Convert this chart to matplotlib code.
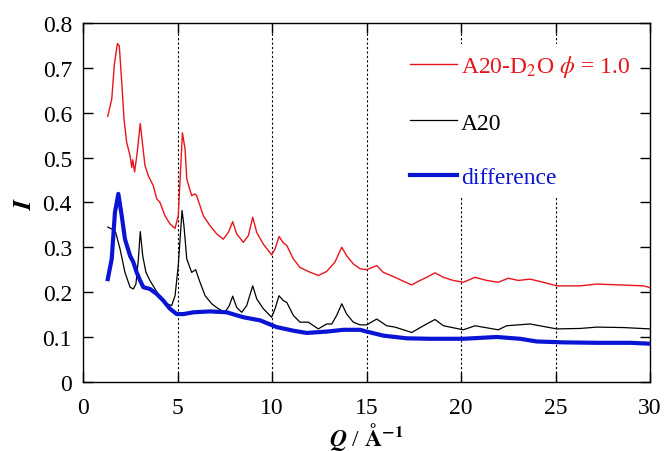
#!/usr/bin/env python3
"""Structure factor of A20 in D2O, A20 alone and their difference."""

import matplotlib

matplotlib.use("Agg")
import matplotlib.pyplot as plt
import numpy as np

# values
q_d2o = [1.31, 1.52, 1.66, 1.82, 1.92, 2.05, 2.17, 2.31, 2.49, 2.58, 2.63, 2.73, 2.87, 3.03,
         3.16, 3.28, 3.46, 3.72, 3.90, 4.07, 4.34, 4.60, 4.87, 5.04, 5.26, 5.40, 5.49, 5.75,
         5.93, 6.01, 6.37, 6.72, 7.07, 7.42, 7.69, 7.92, 8.13, 8.48, 8.75, 8.98, 9.19, 9.54,
         9.98, 10.16, 10.37, 10.60, 10.78, 11.13, 11.48, 11.92, 12.45, 12.89, 13.33, 13.69,
         13.95, 14.30, 14.66, 15.01, 15.54, 15.89, 16.51, 16.86, 17.39, 17.83, 18.18, 18.62,
         19.07, 19.59, 20.12, 20.74, 21.36, 21.97, 22.50, 23.03, 23.65, 24.35, 25.06, 26.30,
         27.18, 28.41, 29.65, 30.0]
i_d2o = [0.592, 0.630, 0.708, 0.754, 0.749, 0.667, 0.586, 0.534, 0.504, 0.478, 0.495, 0.468,
         0.512, 0.576, 0.526, 0.482, 0.459, 0.437, 0.408, 0.400, 0.370, 0.352, 0.342, 0.370,
         0.555, 0.519, 0.452, 0.415, 0.419, 0.415, 0.370, 0.348, 0.330, 0.318, 0.333, 0.357,
         0.330, 0.311, 0.326, 0.367, 0.333, 0.307, 0.283, 0.296, 0.324, 0.310, 0.304, 0.274,
         0.255, 0.246, 0.237, 0.246, 0.267, 0.300, 0.281, 0.263, 0.252, 0.250, 0.259, 0.244,
         0.233, 0.226, 0.216, 0.226, 0.233, 0.243, 0.233, 0.226, 0.222, 0.233, 0.226, 0.222,
         0.231, 0.226, 0.229, 0.222, 0.214, 0.214, 0.218, 0.216, 0.214, 0.210]

q_a20 = [1.31, 1.60, 1.73, 1.96, 2.22, 2.49, 2.66, 2.80, 2.93, 3.03, 3.16, 3.33, 3.54, 3.81,
         4.07, 4.43, 4.69, 4.87, 5.04, 5.24, 5.34, 5.49, 5.75, 5.96, 6.19, 6.46, 6.81, 7.16,
         7.51, 7.74, 7.92, 8.13, 8.40, 8.66, 8.98, 9.19, 9.54, 9.98, 10.16, 10.37, 10.60,
         10.78, 11.13, 11.48, 11.92, 12.45, 12.89, 13.16, 13.42, 13.69, 13.95, 14.30, 14.66,
         15.01, 15.54, 16.07, 16.51, 17.39, 18.01, 18.62, 19.07, 20.12, 20.74, 21.97, 22.41,
         23.65, 25.06, 26.30, 27.18, 28.60, 30.0]
i_a20 = [0.345, 0.339, 0.333, 0.296, 0.244, 0.211, 0.207, 0.218, 0.274, 0.335, 0.281, 0.244,
         0.226, 0.207, 0.189, 0.174, 0.170, 0.192, 0.259, 0.382, 0.348, 0.274, 0.244, 0.250,
         0.222, 0.192, 0.174, 0.163, 0.155, 0.170, 0.191, 0.166, 0.155, 0.170, 0.214, 0.185,
         0.163, 0.144, 0.163, 0.192, 0.181, 0.177, 0.148, 0.133, 0.133, 0.118, 0.129, 0.129,
         0.148, 0.174, 0.151, 0.133, 0.127, 0.127, 0.140, 0.125, 0.122, 0.110, 0.125, 0.139,
         0.125, 0.116, 0.125, 0.116, 0.125, 0.129, 0.118, 0.119, 0.122, 0.121, 0.118]

q_diff = [1.31, 1.52, 1.69, 1.87, 2.05, 2.22, 2.49, 2.66, 2.84, 3.02, 3.19, 3.54, 3.90, 4.25,
          4.60, 4.96, 5.31, 5.84, 6.72, 7.60, 8.48, 9.37, 10.25, 11.13, 11.83, 12.89, 13.77,
          14.66, 15.01, 15.89, 17.13, 18.36, 20.12, 21.89, 23.12, 24.00, 25.41, 27.18, 28.95,
          30.0]
i_diff = [0.229, 0.274, 0.378, 0.419, 0.370, 0.318, 0.281, 0.267, 0.244, 0.226, 0.211, 0.207,
          0.196, 0.181, 0.163, 0.151, 0.151, 0.155, 0.157, 0.155, 0.144, 0.137, 0.122, 0.114,
          0.109, 0.112, 0.116, 0.116, 0.112, 0.103, 0.097, 0.096, 0.096, 0.100, 0.096, 0.090,
          0.088, 0.087, 0.087, 0.085]

series_labels = [r"A20-D$_2$O $\phi$ = 1.0", "A20", "difference"]
series_colors = ["#e8141b", "black", "#0a14d4"]
grid_q = [5, 10, 15, 20, 25]


def main():
    plt.rcParams["font.family"] = ["Liberation Serif", "DejaVu Serif"]
    plt.rcParams["mathtext.fontset"] = "stix"

    fig = plt.figure(figsize=(6.64, 4.52), dpi=100)
    ax = fig.add_axes([0.125, 0.153, 0.854, 0.794])

    for q in grid_q:
        ax.axvline(q, color="black", ls=(0, (2, 2)), lw=0.8, zorder=1)

    ax.plot(q_d2o, i_d2o, color=series_colors[0], lw=1.0, label=series_labels[0], zorder=3)
    ax.plot(q_a20, i_a20, color=series_colors[1], lw=0.9, label=series_labels[1], zorder=3)
    ax.plot(q_diff, i_diff, color=series_colors[2], lw=3.0, label=series_labels[2], zorder=4)

    ax.set_xlim(0, 30)
    ax.set_ylim(0, 0.8)
    ax.set_xticks(np.arange(0, 31, 5))
    ax.set_yticks(np.arange(0, 0.81, 0.1))
    ax.set_yticklabels(["0"] + [f"{v:.1f}" for v in np.arange(0.1, 0.81, 0.1)])
    ax.tick_params(direction="in", top=True, right=True, length=7, width=1, labelsize=17)
    ax.tick_params(axis="x", pad=11)
    ax.tick_params(axis="y", pad=8)
    for s in ax.spines.values():
        s.set_linewidth(1.0)

    ax.set_xlabel(r"$\boldsymbol{Q}$ / $\mathbf{\AA^{-1}}$", fontsize=17, labelpad=1)
    ax.set_ylabel(r"$\boldsymbol{I}$", fontsize=19, labelpad=5)

    leg = ax.legend(loc="upper left", bbox_to_anchor=(0.54, 0.975), frameon=True,
                    framealpha=1, edgecolor="none", fontsize=17, labelspacing=1.4,
                    handlelength=1.95, handletextpad=0.2, labelcolor="linecolor")
    leg.set_zorder(10)

    fig.savefig("out.png", dpi=100)


if __name__ == "__main__":
    main()
